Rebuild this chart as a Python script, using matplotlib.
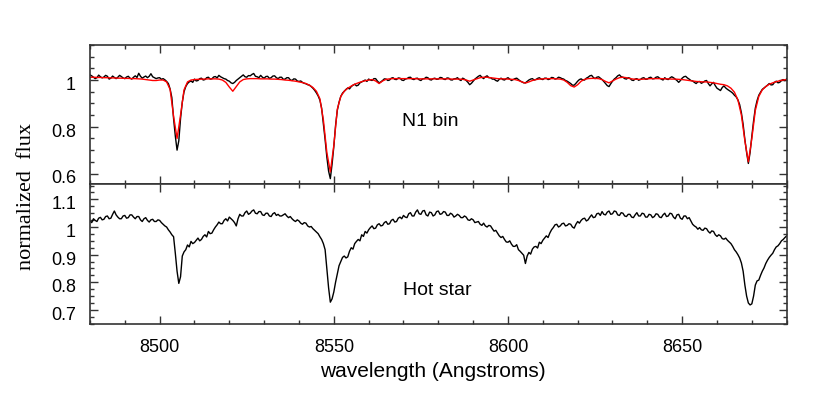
import numpy as np
import matplotlib
matplotlib.use('Agg')
import matplotlib.pyplot as plt
import matplotlib.transforms as mtrans
from matplotlib.ticker import MultipleLocator, FuncFormatter

# wavelength grids: observed spectra at 0.5 A, model at 1 A
wave_start = 8480
wave_stop = 8680
obs_step = 0.5
model_step = 1.0
obs_wave = np.arange(wave_start, wave_stop + obs_step / 2, obs_step)
model_wave = np.arange(wave_start, wave_stop + model_step / 2, model_step)

# N1 bin spectrum (black, top panel), one row = 5 A
n1_flux = [
    1.022, 1.018, 1.012, 1.006, 1.010, 1.021, 1.014, 1.009, 1.013, 1.020,
    1.016, 1.004, 1.008, 1.017, 1.011, 1.006, 1.012, 1.020, 1.015, 1.009,
    1.006, 1.013, 1.016, 1.008, 1.004, 1.012, 1.018, 1.011, 1.029, 1.016,
    1.008, 1.013, 1.017, 1.010, 1.016, 1.027, 1.014, 1.010, 1.006, 1.009,
    1.010, 1.003, 1.006, 1.001, 0.994, 0.985, 0.962, 0.925, 0.835, 0.760,
    0.700, 0.740, 0.835, 0.905, 0.950, 0.972, 0.985, 0.992, 0.996, 0.990,
    1.004, 0.996, 0.998, 1.006, 1.008, 1.000, 1.002, 1.010, 1.012, 1.004,
    1.005, 1.013, 1.015, 1.009, 1.020, 1.014, 1.010, 1.006, 1.004, 0.998,
    0.995, 0.988, 0.985, 0.990, 0.998, 1.004, 1.010, 1.016, 1.022, 1.014,
    1.012, 1.019, 1.018, 1.024, 1.028, 1.016, 1.014, 1.010, 1.020, 1.012,
    1.008, 1.015, 1.016, 1.007, 1.010, 1.017, 1.018, 1.010, 1.006, 1.012,
    1.012, 1.003, 1.004, 1.010, 1.010, 1.001, 0.998, 1.005, 1.004, 0.996,
    0.994, 0.996, 0.990, 0.986, 0.984, 0.980, 0.978, 0.972, 0.965, 0.956,
    0.945, 0.932, 0.914, 0.880, 0.814, 0.745, 0.670, 0.610, 0.578, 0.640,
    0.715, 0.805, 0.870, 0.905, 0.930, 0.944, 0.952, 0.960, 0.966, 0.962,
    0.972, 0.978, 0.982, 0.975, 0.978, 0.988, 0.992, 0.996, 1.000, 0.994,
    1.004, 1.000, 0.998, 1.006, 1.006, 0.996, 0.988, 0.992, 0.998, 1.005,
    1.004, 0.998, 1.000, 1.008, 1.010, 1.003, 1.002, 1.009, 1.008, 1.000,
    0.998, 1.004, 1.006, 1.011, 1.012, 1.004, 1.002, 1.007, 1.008, 1.001,
    0.998, 1.005, 1.006, 1.012, 1.010, 1.002, 1.000, 1.006, 1.008, 1.003,
    1.004, 1.011, 1.010, 1.004, 1.002, 1.009, 1.008, 1.001, 1.000, 1.005,
    1.006, 1.010, 1.002, 0.998, 1.008, 1.004, 0.998, 0.990, 0.980, 0.986,
    0.995, 1.004, 1.010, 1.016, 1.020, 1.012, 1.006, 1.014, 1.018, 1.010,
    1.010, 1.004, 1.004, 0.998, 0.995, 1.003, 1.008, 1.002, 1.000, 1.006,
    1.010, 1.004, 0.998, 1.002, 1.006, 1.008, 1.002, 0.996, 0.992, 0.988,
    0.988, 0.994, 1.000, 1.004, 1.006, 1.000, 1.002, 1.007, 1.010, 1.004,
    1.002, 1.008, 1.008, 1.002, 1.004, 1.011, 1.010, 1.004, 1.006, 1.012,
    1.010, 1.006, 1.004, 0.998, 0.995, 0.990, 0.985, 0.978, 0.978, 0.986,
    0.995, 1.002, 1.005, 1.000, 1.000, 1.008, 1.012, 1.018, 1.020, 1.011,
    1.006, 1.012, 1.014, 1.008, 1.002, 0.994, 0.985, 0.976, 0.972, 0.984,
    0.995, 1.004, 1.010, 1.018, 1.022, 1.014, 1.012, 1.006, 1.004, 1.010,
    1.008, 1.000, 0.998, 1.004, 1.006, 0.999, 1.002, 1.008, 1.010, 1.003,
    1.004, 1.010, 1.012, 1.005, 1.006, 1.012, 1.014, 1.008, 1.004, 1.000,
    1.010, 1.004, 1.002, 1.009, 1.014, 1.010, 1.004, 0.998, 0.990, 0.998,
    1.008, 1.014, 1.016, 1.009, 1.004, 0.998, 0.996, 0.990, 0.985, 0.992,
    0.994, 0.986, 0.990, 0.996, 0.998, 0.985, 0.975, 0.984, 0.990, 0.976,
    0.965, 0.960, 0.955, 0.968, 0.975, 0.966, 0.960, 0.955, 0.950, 0.944,
    0.935, 0.928, 0.915, 0.895, 0.860, 0.810, 0.745, 0.690, 0.643, 0.690,
    0.760, 0.825, 0.880, 0.912, 0.935, 0.948, 0.960, 0.966, 0.972, 0.978,
    0.985, 0.979, 0.980, 0.990, 0.995, 0.988, 0.990, 0.998, 1.002, 0.997,
    1.005]

# model fit (red, top panel), one row = 10 A
model_flux = [
    1.012, 1.012, 1.011, 1.011, 1.010, 1.010, 1.009, 1.009, 1.008, 1.008,
    1.007, 1.007, 1.006, 1.006, 1.005, 1.004, 1.002, 1.000, 0.998, 0.998,
    1.000, 1.000, 0.992, 0.960, 0.845, 0.750, 0.850, 0.958, 0.992, 1.000,
    1.002, 1.003, 1.004, 1.004, 1.005, 1.005, 1.005, 1.004, 1.000, 0.990,
    0.970, 0.952, 0.972, 0.992, 1.002, 1.005, 1.006, 1.006, 1.006, 1.005,
    1.005, 1.005, 1.004, 1.004, 1.003, 1.002, 1.000, 0.999, 0.997, 0.995,
    0.992, 0.989, 0.985, 0.978, 0.968, 0.952, 0.920, 0.830, 0.690, 0.607,
    0.720, 0.875, 0.930, 0.952, 0.965, 0.974, 0.982, 0.988, 0.993, 0.997,
    1.000, 1.002, 0.996, 0.985, 0.996, 1.003, 1.005, 1.006, 1.006, 1.006,
    1.006, 1.006, 1.006, 1.006, 1.005, 1.005, 1.005, 1.005, 1.005, 1.005,
    1.005, 1.005, 1.005, 1.005, 1.004, 1.004, 1.004, 1.003, 1.000, 0.995,
    1.000, 1.005, 1.010, 1.012, 1.012, 1.010, 1.008, 1.006, 1.005, 1.005,
    1.004, 1.003, 1.002, 0.998, 0.992, 0.987, 0.992, 0.998, 1.002, 1.004,
    1.005, 1.006, 1.006, 1.006, 1.005, 1.004, 1.000, 0.990, 0.976, 0.970,
    0.980, 0.995, 1.003, 1.006, 1.007, 1.007, 1.006, 1.002, 0.994, 0.988,
    0.996, 1.004, 1.010, 1.012, 1.010, 1.006, 1.004, 1.003, 1.003, 1.004,
    1.005, 1.006, 1.006, 1.006, 1.006, 1.005, 1.005, 1.004, 1.004, 1.003,
    1.002, 1.000, 0.998, 0.996, 0.994, 0.993, 0.992, 0.992, 0.990, 0.988,
    0.985, 0.982, 0.980, 0.975, 0.965, 0.948, 0.915, 0.850, 0.740, 0.650,
    0.750, 0.870, 0.930, 0.958, 0.972, 0.982, 0.988, 0.993, 0.997, 1.000,
    1.002]

# hot star spectrum (black, bottom panel), one row = 5 A
hot_flux = [
    1.022, 1.016, 1.030, 1.024, 1.020, 1.032, 1.035, 1.026, 1.028, 1.038,
    1.040, 1.030, 1.032, 1.046, 1.058, 1.044, 1.036, 1.030, 1.030, 1.040,
    1.042, 1.032, 1.034, 1.044, 1.044, 1.036, 1.030, 1.038, 1.038, 1.026,
    1.020, 1.030, 1.034, 1.024, 1.018, 1.026, 1.028, 1.020, 1.020, 1.026,
    1.024, 1.016, 1.010, 1.004, 1.000, 0.990, 0.982, 0.972, 0.965, 0.905,
    0.840, 0.796, 0.820, 0.895, 0.910, 0.918, 0.935, 0.928, 0.948, 0.940,
    0.944, 0.952, 0.960, 0.950, 0.955, 0.966, 0.972, 0.964, 0.984, 0.976,
    0.978, 0.990, 1.000, 1.008, 1.018, 1.012, 1.012, 1.024, 1.030, 1.022,
    1.036, 1.030, 1.024, 1.016, 1.004, 1.030, 1.046, 1.040, 1.040, 1.052,
    1.058, 1.046, 1.050, 1.058, 1.062, 1.050, 1.048, 1.056, 1.056, 1.044,
    1.042, 1.050, 1.050, 1.040, 1.038, 1.048, 1.052, 1.042, 1.046, 1.040,
    1.040, 1.044, 1.048, 1.040, 1.034, 1.038, 1.030, 1.024, 1.020, 1.026,
    1.022, 1.014, 1.010, 1.016, 1.014, 1.004, 1.000, 1.002, 0.994, 0.988,
    0.982, 0.976, 0.965, 0.955, 0.940, 0.918, 0.850, 0.780, 0.728, 0.740,
    0.765, 0.800, 0.830, 0.860, 0.875, 0.890, 0.895, 0.888, 0.892, 0.912,
    0.925, 0.920, 0.940, 0.948, 0.955, 0.950, 0.972, 0.966, 0.984, 0.978,
    0.990, 0.998, 1.004, 0.994, 0.996, 1.008, 1.012, 1.004, 1.006, 1.016,
    1.020, 1.010, 1.012, 1.024, 1.028, 1.018, 1.020, 1.032, 1.036, 1.030,
    1.042, 1.036, 1.034, 1.048, 1.052, 1.040, 1.040, 1.054, 1.062, 1.048,
    1.046, 1.058, 1.060, 1.044, 1.040, 1.054, 1.052, 1.040, 1.044, 1.056,
    1.058, 1.046, 1.048, 1.056, 1.054, 1.042, 1.042, 1.050, 1.046, 1.036,
    1.040, 1.046, 1.042, 1.034, 1.034, 1.040, 1.036, 1.026, 1.024, 1.030,
    1.026, 1.016, 1.018, 1.020, 1.010, 1.006, 1.014, 1.004, 1.000, 1.006,
    1.004, 0.994, 0.985, 0.988, 0.978, 0.968, 0.962, 0.966, 0.955, 0.946,
    0.945, 0.950, 0.938, 0.930, 0.930, 0.936, 0.918, 0.912, 0.905, 0.898,
    0.868, 0.895, 0.908, 0.902, 0.920, 0.928, 0.930, 0.924, 0.945, 0.940,
    0.952, 0.960, 0.968, 0.962, 0.978, 0.990, 0.998, 1.008, 1.010, 1.000,
    1.004, 1.012, 1.014, 1.004, 1.006, 1.012, 1.010, 1.000, 0.996, 1.010,
    1.020, 1.014, 1.024, 1.030, 1.032, 1.022, 1.026, 1.036, 1.044, 1.034,
    1.036, 1.048, 1.050, 1.042, 1.056, 1.046, 1.044, 1.054, 1.058, 1.046,
    1.048, 1.058, 1.056, 1.044, 1.042, 1.052, 1.050, 1.040, 1.038, 1.046,
    1.046, 1.036, 1.034, 1.044, 1.052, 1.040, 1.040, 1.050, 1.048, 1.036,
    1.036, 1.046, 1.044, 1.034, 1.038, 1.048, 1.046, 1.036, 1.034, 1.044,
    1.050, 1.038, 1.040, 1.050, 1.048, 1.036, 1.030, 1.044, 1.046, 1.032,
    1.028, 1.040, 1.040, 1.030, 1.034, 1.022, 1.010, 1.004, 1.000, 0.992,
    0.998, 0.990, 0.988, 0.996, 0.994, 0.984, 0.978, 0.986, 0.984, 0.972,
    0.966, 0.972, 0.968, 0.958, 0.956, 0.960, 0.952, 0.946, 0.940, 0.930,
    0.918, 0.910, 0.900, 0.888, 0.870, 0.840, 0.790, 0.750, 0.725, 0.718,
    0.722, 0.750, 0.790, 0.805, 0.808, 0.825, 0.840, 0.852, 0.868, 0.880,
    0.890, 0.898, 0.905, 0.918, 0.928, 0.932, 0.940, 0.950, 0.955, 0.962,
    0.968]

top_label = 'N1 bin'
bottom_label = 'Hot star'
xlabel = 'wavelength (Angstroms)'
ylabel = 'normalized  flux'

plt.rcParams['font.family'] = ['Liberation Sans', 'DejaVu Sans']

fig = plt.figure(figsize=(8.3, 3.97), dpi=100)
ax1 = fig.add_axes([0.1084, 0.5353, 0.8394, 0.3514])
ax2 = fig.add_axes([0.1084, 0.1839, 0.8394, 0.3514], sharex=ax1)

ax1.plot(obs_wave, n1_flux, color='black', lw=1.0)
ax1.plot(model_wave, model_flux, color='red', lw=1.0)
ax2.plot(obs_wave, hot_flux, color='black', lw=1.0)

ax1.set_xlim(wave_start, wave_stop)
ax1.set_ylim(0.553, 1.15)
ax2.set_ylim(0.649, 1.154)

fmt = FuncFormatter(lambda v, p: '%g' % round(v, 3))
for ax in (ax1, ax2):
    ax.xaxis.set_major_locator(MultipleLocator(50))
    ax.xaxis.set_minor_locator(MultipleLocator(10))
    ax.yaxis.set_major_formatter(fmt)
    ax.tick_params(which='both', direction='in', top=True, right=True,
                   labelsize=13, width=1.0, color='#333333')
    ax.tick_params(which='major', length=6)
    ax.tick_params(which='minor', length=3)
    ax.tick_params(axis='y', pad=10)
    ax.tick_params(axis='x', pad=11)
    for s in ax.spines.values():
        s.set_linewidth(1.2)
        s.set_color('#333333')

ax1.yaxis.set_major_locator(MultipleLocator(0.2))
ax1.yaxis.set_minor_locator(MultipleLocator(0.05))
ax2.yaxis.set_major_locator(MultipleLocator(0.1))
ax2.yaxis.set_minor_locator(MultipleLocator(0.025))
ax1.tick_params(labelbottom=False)

# y tick labels sit a little below their ticks in the original
shift = mtrans.ScaledTranslation(0, -2.5 / 72, fig.dpi_scale_trans)
for ax in (ax1, ax2):
    for lab in ax.get_yticklabels():
        lab.set_transform(lab.get_transform() + shift)

ax1.text(0.488, 0.455, top_label, transform=ax1.transAxes, fontsize=14,
         ha='center', va='center')
ax2.text(0.498, 0.237, bottom_label, transform=ax2.transAxes, fontsize=14,
         ha='center', va='center')

fig.text(0.521, 0.063, xlabel, fontsize=15, ha='center', va='center')
fig.text(0.032, 0.504, ylabel, fontsize=16, ha='center', va='center',
         rotation=90, family=['Liberation Serif', 'DejaVu Serif'])

fig.savefig('out.png', dpi=100)
